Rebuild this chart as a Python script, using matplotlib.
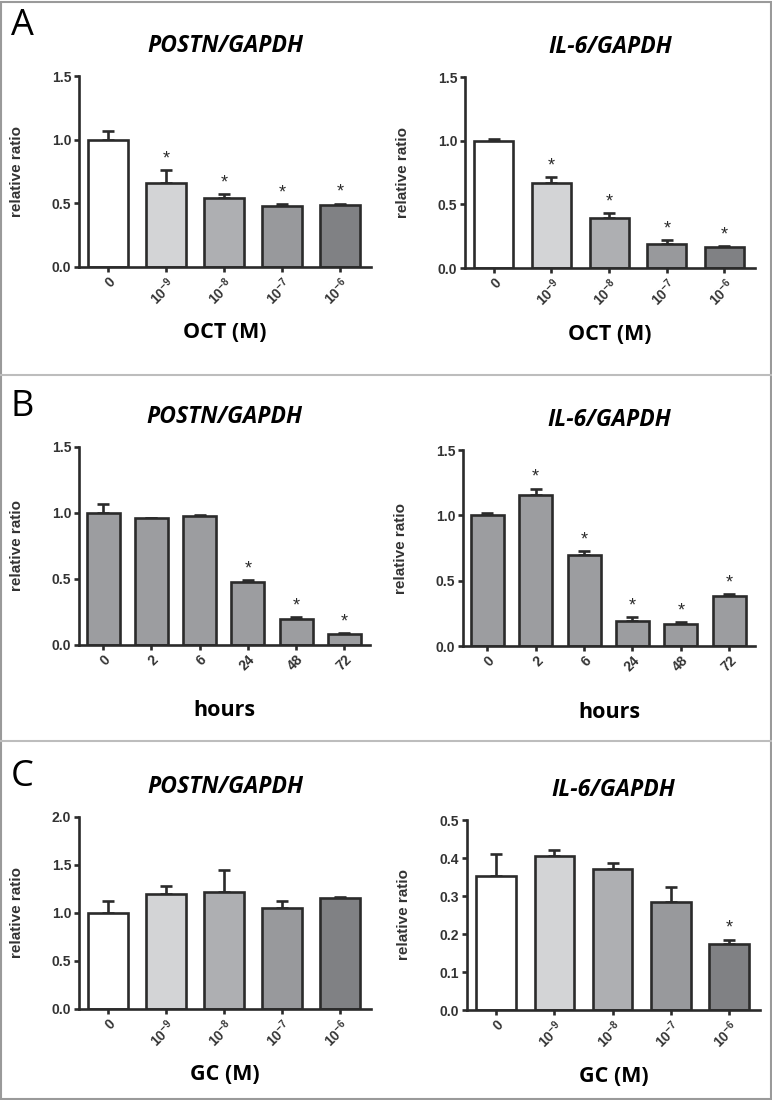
import numpy as np
import matplotlib
matplotlib.use("Agg")
import matplotlib.pyplot as plt
from matplotlib.lines import Line2D

plt.rcParams["mathtext.fontset"] = "custom"
plt.rcParams["mathtext.rm"] = "Liberation Sans:bold"
plt.rcParams["mathtext.it"] = "Liberation Sans:bold"
plt.rcParams["mathtext.bf"] = "Liberation Sans:bold"

# ---- data ----
dose_labels = ["0", r"$\mathregular{10^{-9}}$", r"$\mathregular{10^{-8}}$",
               r"$\mathregular{10^{-7}}$", r"$\mathregular{10^{-6}}$"]
hour_labels = ["0", "2", "6", "24", "48", "72"]

a_postn = [1.0, 0.66, 0.54, 0.48, 0.485]
a_postn_err = [0.07, 0.10, 0.03, 0.015, 0.012]
a_postn_sig = [1, 2, 3, 4]
a_il6 = [1.0, 0.665, 0.39, 0.19, 0.165]
a_il6_err = [0.012, 0.05, 0.04, 0.03, 0.006]
a_il6_sig = [1, 2, 3, 4]

b_postn = [1.0, 0.96, 0.98, 0.48, 0.197, 0.086]
b_postn_err = [0.065, 0.003, 0.006, 0.012, 0.012, 0.006]
b_postn_sig = [3, 4, 5]
b_il6 = [1.0, 1.155, 0.696, 0.19, 0.168, 0.385]
b_il6_err = [0.02, 0.05, 0.03, 0.03, 0.012, 0.012]
b_il6_sig = [1, 2, 3, 4, 5]

c_postn = [1.0, 1.20, 1.22, 1.05, 1.156]
c_postn_err = [0.125, 0.08, 0.23, 0.08, 0.015]
c_postn_sig = []
c_il6 = [0.352, 0.405, 0.371, 0.285, 0.175]
c_il6_err = [0.059, 0.016, 0.017, 0.04, 0.01]
c_il6_sig = [4]

dose_colors = ["#ffffff", "#d3d4d6", "#aeafb2", "#98999c", "#808184"]
hour_color = "#9c9da0"
dark = "#2b2b2b"

W, H = 772, 1100
fig = plt.figure(figsize=(W / 100, H / 100), dpi=100)


def add_ax(x0, y0, x1, y1):
    return fig.add_axes([x0 / W, 1 - y1 / H, (x1 - x0) / W, (y1 - y0) / H])


def bar_panel(ax, labels, vals, errs, sig, colors, ymax, step, title, xlabel):
    x = np.arange(len(vals))
    lw = 1.9
    ax.bar(x, vals, width=0.68, color=colors, edgecolor=dark, linewidth=lw, zorder=2)
    ax.errorbar(x, vals, yerr=[np.zeros(len(vals)), errs], fmt="none",
                ecolor=dark, elinewidth=lw, capsize=4.5, capthick=lw, zorder=1)
    for i in sig:
        ax.annotate("*", (x[i], vals[i] + errs[i]), xytext=(0, 2),
                    textcoords="offset points", ha="center", va="bottom",
                    fontsize=13, color=dark, family="Liberation Sans")
    ax.set_xlim(-0.5, len(vals) - 0.47)
    ax.set_ylim(0, ymax)
    ax.set_yticks(np.arange(0, ymax + step / 2, step))
    ax.yaxis.set_major_formatter(plt.FormatStrFormatter("%.1f"))
    ax.set_xticks(x)
    ax.set_xticklabels(labels, rotation=45, ha="right", rotation_mode="anchor")
    for s in ["top", "right"]:
        ax.spines[s].set_visible(False)
    for s in ["left", "bottom"]:
        ax.spines[s].set_linewidth(lw)
        ax.spines[s].set_color(dark)
    ax.tick_params(axis="both", colors=dark, width=lw, length=3.5, pad=2,
                   labelsize=10)
    for lab in ax.get_xticklabels() + ax.get_yticklabels():
        lab.set_fontweight("bold")
        lab.set_family("Liberation Sans")
        lab.set_color("#333333")
    ax.set_ylabel("relative ratio", fontsize=11, fontweight="bold",
                  family="Liberation Sans", color="#333333")
    ax.yaxis.set_label_coords(-0.19, 0.5)
    ax.set_title(title, fontsize=16.5, fontweight="bold", style="italic",
                 family="Open Sans", pad=17, color="black")
    ax.text(0.5, -66 / (ax.get_position().height * H), xlabel,
            transform=ax.transAxes, ha="center", va="center",
            fontsize=15.5, fontweight="bold", family="Open Sans")


ax = add_ax(79, 76, 371, 267)
bar_panel(ax, dose_labels, a_postn, a_postn_err, a_postn_sig, dose_colors,
          1.5, 0.5, "POSTN/GAPDH", "OCT (M)")
ax = add_ax(465, 77, 755, 268)
bar_panel(ax, dose_labels, a_il6, a_il6_err, a_il6_sig, dose_colors,
          1.5, 0.5, "IL-6/GAPDH", "OCT (M)")

ax = add_ax(79, 447, 370, 645)
bar_panel(ax, hour_labels, b_postn, b_postn_err, b_postn_sig, [hour_color] * 6,
          1.5, 0.5, "POSTN/GAPDH", "hours")
ax = add_ax(463, 450, 755, 646)
bar_panel(ax, hour_labels, b_il6, b_il6_err, b_il6_sig, [hour_color] * 6,
          1.5, 0.5, "IL-6/GAPDH", "hours")

ax = add_ax(79, 817, 371, 1009)
bar_panel(ax, dose_labels, c_postn, c_postn_err, c_postn_sig, dose_colors,
          2.0, 0.5, "POSTN/GAPDH", "GC (M)")
ax = add_ax(467, 820, 760, 1010)
bar_panel(ax, dose_labels, c_il6, c_il6_err, c_il6_sig, dose_colors,
          0.5, 0.1, "IL-6/GAPDH", "GC (M)")

# panel letters
for letter, yc in [("A", 26), ("B", 407), ("C", 777)]:
    fig.text(22 / W, 1 - yc / H, letter, ha="center", va="center",
             fontsize=26, family="Open Sans")

# panel frames
for yy in [375, 741]:
    fig.add_artist(Line2D([0, 1], [1 - yy / H] * 2, color="#bdbdbd", lw=1.5))
fig.add_artist(plt.Rectangle((0.5 / W, 1.5 / H), (W - 2) / W, (H - 3) / H,
                             fill=False, edgecolor="#9a9a9a", lw=1.5,
                             transform=fig.transFigure))

fig.savefig("out.png", dpi=100)
